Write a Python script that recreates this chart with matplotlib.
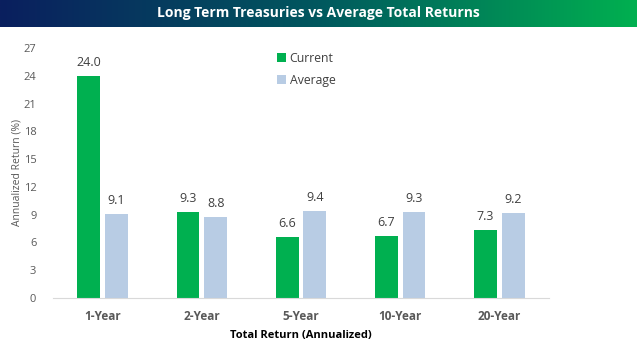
import numpy as np
import matplotlib.pyplot as plt
from matplotlib.colors import LinearSegmentedColormap

categories = ['1-Year', '2-Year', '5-Year', '10-Year', '20-Year']
current = [24.0, 9.3, 6.6, 6.7, 7.3]
average = [9.1, 8.8, 9.4, 9.3, 9.2]
yticks = [0, 3, 6, 9, 12, 15, 18, 21, 24, 27]

plt.rcParams['font.family'] = ['Open Sans', 'DejaVu Sans']

fig = plt.figure(figsize=(6.37, 3.51), dpi=100)

# title banner with gradient
bax = fig.add_axes([0, 1 - 27 / 351, 1, 27 / 351])
cmap = LinearSegmentedColormap.from_list('banner', ['#0a1f5e', '#01585f', '#00b050'])
bax.imshow(np.linspace(0, 1, 256).reshape(1, -1), aspect='auto', cmap=cmap, extent=[0, 1, 0, 1])
bax.set_axis_off()
bax.text(0.5, 0.5, 'Long Term Treasuries vs Average Total Returns', color='white',
         fontsize=10, fontweight='bold', ha='center', va='center', transform=bax.transAxes)

ax = fig.add_axes([53 / 637, 53 / 351, 496 / 637, 250 / 351])
x = np.arange(len(categories))
w = 0.23
b1 = ax.bar(x - 0.14, current, w, color='#00b050', label='Current')
b2 = ax.bar(x + 0.14, average, w, color='#b8cce4', label='Average')

for bars in (b1, b2):
    for b in bars:
        ax.annotate(f'{b.get_height():.1f}', (b.get_x() + b.get_width() / 2, b.get_height()),
                    xytext=(0, 5), textcoords='offset points', ha='center', va='bottom',
                    fontsize=9, color='#404040')

ax.set_xlim(-0.5, len(categories) - 0.5)
ax.set_ylim(0, 27)
ax.set_yticks(yticks)
ax.set_xticks(x)
ax.set_xticklabels(categories, fontweight='bold')
ax.tick_params(axis='both', length=0, labelsize=8, colors='#595959')
ax.tick_params(axis='x', labelsize=8.5, pad=9)
ax.tick_params(axis='y', pad=12)
for s in ['top', 'right', 'left']:
    ax.spines[s].set_visible(False)
ax.spines['bottom'].set_color('#d9d9d9')

ax.set_ylabel('Annualized Return (%)', fontsize=7.5, color='#595959')
ax.yaxis.set_label_coords(-0.061, 0.5)
ax.set_xlabel('Total Return (Annualized)', fontsize=8, fontweight='bold', color='black', labelpad=5)

ax.legend(loc='upper left', bbox_to_anchor=(0.43, 1.03), frameon=False, fontsize=8.8,
          labelcolor='#404040', handlelength=0.7, handleheight=0.7, handletextpad=0.3,
          labelspacing=0.75)

fig.savefig('out.png', dpi=100)
